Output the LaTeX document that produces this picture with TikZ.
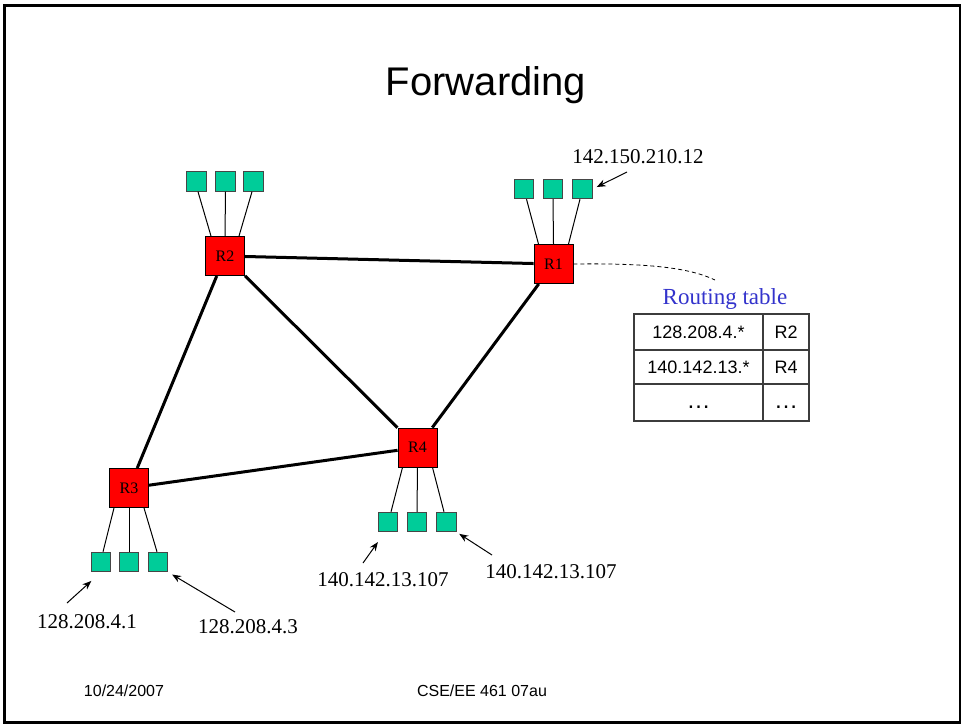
\documentclass[tikz,border=0pt]{standalone}
\usepackage{fontspec}
\setmainfont{Liberation Serif}
\setsansfont{Liberation Sans}
\usetikzlibrary{arrows.meta}
\definecolor{hostfill}{RGB}{0,204,153}
\definecolor{hostline}{RGB}{70,70,70}
\definecolor{tblue}{RGB}{51,51,204}
\definecolor{tline}{RGB}{60,60,60}
\tikzset{
  router/.style={draw=black, line width=0.9pt, fill=red, minimum width=39pt, minimum height=39pt, inner sep=0pt, font=\fontsize{16}{18}\selectfont},
  host/.style={draw=hostline, line width=0.9pt, fill=hostfill, minimum width=19.5pt, minimum height=19.5pt, inner sep=0pt},
  link/.style={line width=3pt, black},
  drop/.style={line width=1pt, black},
  ip/.style={font=\fontsize{21}{24}\selectfont, inner sep=0pt},
  ptr/.style={line width=1pt, -{Stealth[length=9pt,width=7pt]}},
  cell/.style={font=\sffamily\fontsize{18}{20}\selectfont, inner sep=0pt},
  dots/.style={font=\sffamily\fontsize{24}{26}\selectfont, inner sep=0pt},
  foot/.style={font=\sffamily\fontsize{16}{18}\selectfont, inner sep=0pt}
}
\begin{document}
\begin{tikzpicture}[x=1pt,y=-1pt]
\useasboundingbox (0,0) rectangle (961,724);
\fill[white] (0,0) rectangle (961,724);
\draw[line width=3pt] (4.5,5.5) rectangle (960,722);

% title
\node[font=\sffamily\fontsize{40}{44}\selectfont, anchor=base, inner sep=0pt] (title) at (486,95) {Forwarding};

% routers
\node[router] (R2) at (225,256) {R2};
\node[router] (R1) at (553.5,264) {R1};
\node[router] (R4) at (417.5,447.5) {R4};
\node[router] (R3) at (129,488) {R3};

% links
\draw[link] (R2) -- (R1);
\draw[link] (R2) -- (R3);
\draw[link] (R2) -- (R4);
\draw[link] (R1) -- (R4);
\draw[link] (R3) -- (R4);

% hosts R2
\node[host] (h2a) at (196.5,181.5) {};
\node[host] (h2b) at (225.5,181.5) {};
\node[host] (h2c) at (253.5,181.5) {};
% hosts R1
\node[host] (h1a) at (524,189) {};
\node[host] (h1b) at (553,189) {};
\node[host] (h1c) at (582.5,189) {};
% hosts R4
\node[host] (h4a) at (388,522) {};
\node[host] (h4b) at (417,522) {};
\node[host] (h4c) at (446.5,522) {};
% hosts R3
\node[host] (h3a) at (101,562) {};
\node[host] (h3b) at (129,562) {};
\node[host] (h3c) at (158,562) {};

% drops
\draw[drop] ([xshift=1.5pt]h2a.south) -- ([xshift=-14pt]R2.north);
\draw[drop] (h2b.south) -- (R2.north);
\draw[drop] ([xshift=-1.5pt]h2c.south) -- ([xshift=14pt]R2.north);
\draw[drop] ([xshift=2.5pt]h1a.south) -- ([xshift=-15pt]R1.north);
\draw[drop] (h1b.south) -- (R1.north);
\draw[drop] ([xshift=-2.5pt]h1c.south) -- ([xshift=15pt]R1.north);
\draw[drop] ([xshift=3pt]h4a.north) -- ([xshift=-15pt]R4.south);
\draw[drop] (h4b.north) -- (R4.south);
\draw[drop] ([xshift=-2.5pt]h4c.north) -- ([xshift=15pt]R4.south);
\draw[drop] ([xshift=2pt]h3a.north) -- ([xshift=-15pt]R3.south);
\draw[drop] (h3b.north) -- (R3.south);
\draw[drop] ([xshift=-1pt]h3c.north) -- ([xshift=15pt]R3.south);

% address labels
\node[ip] (l1) at (638,157) {142.150.210.12};
\node[ip] (l4a) at (383,580) {140.142.13.107};
\node[ip] (l4c) at (551,572) {140.142.13.107};
\node[ip] (l3a) at (87,622) {128.208.4.1};
\node[ip] (l3c) at (248,627) {128.208.4.3};

\coordinate (t1) at (627,172);
\coordinate (t4a) at (363,563);
\coordinate (t4c) at (492,555);
\coordinate (t3a) at (67,603);
\coordinate (t3c) at (235,612);
\draw[ptr, shorten >=4.5pt] (t1) -- (h1c.east);
\draw[ptr, shorten >=12pt] (t4a) -- (h4a.-107);
\draw[ptr, shorten >=3pt] (t4c) -- (h4c.south east);
\draw[ptr, shorten >=13pt] (t3a) -- (h3a.south);
\draw[ptr, shorten >=4.5pt] (t3c) -- (h3c.south east);

% routing table
\coordinate (rtend) at (715,280);
\draw[line width=0.8pt, dash pattern=on 4pt off 3pt] (R1.east) .. controls (650,263) and (690,268) .. (rtend);
\node[font=\fontsize{23}{26}\selectfont, text=tblue, inner sep=0pt] (rt) at (725,299) {Routing table};
\draw[tline, line width=1.3pt] (634,314) rectangle (809,421);
\draw[tline, line width=1.3pt] (634,350) -- (809,350);
\draw[tline, line width=1.3pt] (634,384) -- (809,384);
\draw[tline, line width=1.3pt] (763,314) -- (763,421);
\node[cell] (c11) at (698.5,332) {128.208.4.*};
\node[cell] (c12) at (786,332) {R2};
\node[cell] (c21) at (698.5,367) {140.142.13.*};
\node[cell] (c22) at (786,367) {R4};
\node[dots] (c31) at (698.5,407) {\ldots};
\node[dots] (c32) at (786,407) {\ldots};

% footer
\node[foot] (date) at (124,691) {10/24/2007};
\node[foot] (course) at (482,691) {CSE/EE 461 07au};
\end{tikzpicture}
\end{document}
